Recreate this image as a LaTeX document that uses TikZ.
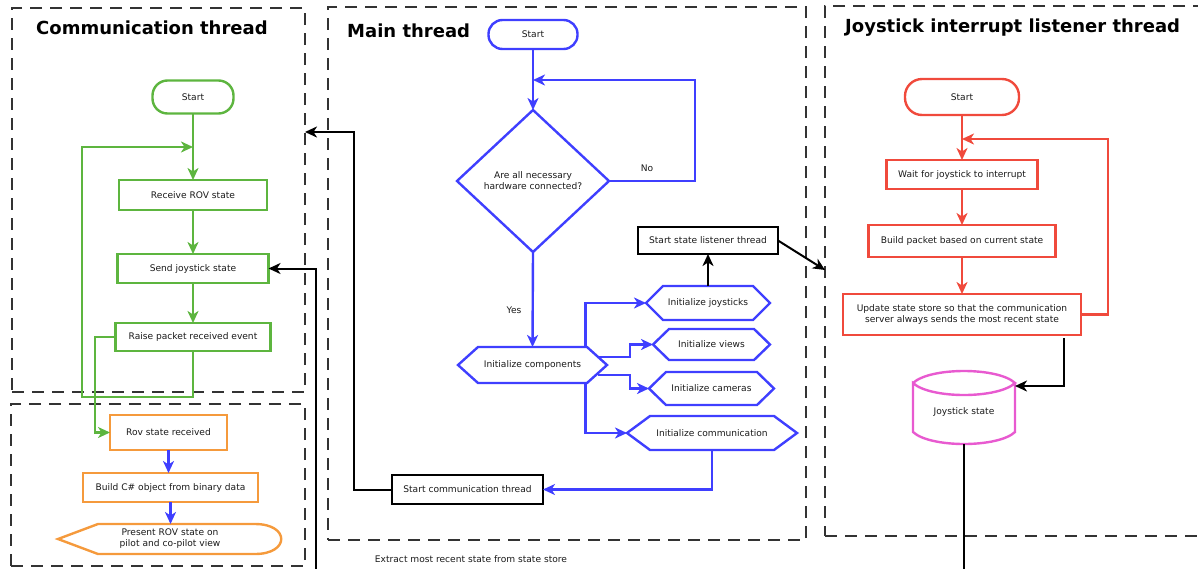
\documentclass[tikz,border=0pt]{standalone}
\usepackage{fontspec}
\setmainfont{DejaVu Sans}
\usetikzlibrary{arrows.meta,calc}
\definecolor{cgreen}{HTML}{5DB53F}
\definecolor{cblue}{HTML}{3F3FFF}
\definecolor{cred}{HTML}{F04A3C}
\definecolor{corange}{HTML}{F59A3C}
\definecolor{cmag}{HTML}{E85AD0}
\definecolor{frm}{HTML}{333333}
\definecolor{txt}{HTML}{1A1A1A}
\tikzset{
  box/.style={draw, rectangle, inner sep=0pt, outer sep=0pt, line width=2.4pt, align=center, text=txt},
  term/.style={box, rounded corners=15pt},
  ghost/.style={rectangle, inner sep=0pt, outer sep=0pt, align=center, text=txt},
  arr/.style={line width=2.4pt, -{Stealth[length=12pt,width=11pt,inset=3.5pt]}},
  garr/.style={arr, draw=cgreen},
  barr/.style={arr, draw=cblue},
  rarr/.style={arr, draw=cred},
  karr/.style={arr, draw=black, line width=2pt},
  frame/.style={draw=frm, rectangle, inner sep=0pt, outer sep=0pt, line width=2.4pt, dash pattern=on 12pt off 8pt},
  title/.style={inner sep=0pt, anchor=west, text=black, font=\fontsize{18}{20}\selectfont\bfseries},
  lbl/.style={inner sep=0pt, text=txt}
}
\newcommand{\hexdraw}[3]{%
  \draw[#2, line width=2.4pt] (#1.west) -- ([xshift=#3]#1.north west) -- ([xshift=-#3]#1.north east) -- (#1.east) -- ([xshift=-#3]#1.south east) -- ([xshift=#3]#1.south west) -- cycle;}
\begin{document}
\begin{tikzpicture}[x=1pt,y=-1pt, font=\fontsize{9.1}{10.9}\selectfont]
\useasboundingbox (0,0) rectangle (1198,568);

% frames
\node[frame, minimum width=293pt, minimum height=384pt] (fcomm) at (158.5,200) {};
\node[frame, minimum width=294pt, minimum height=162pt] (fpres) at (158,485) {};
\node[frame, minimum width=478pt, minimum height=533pt] (fmain) at (567,273.5) {};
\node[frame, minimum width=385pt, minimum height=530pt] (fjoy) at (1017.5,271) {};

% titles
\node[title] (tcomm) at (36,28) {Communication thread};
\node[title] (tmain) at (347,31) {Main thread};
\node[title] (tjoy) at (845,28) {Joystick interrupt listener thread};

% ---------- Communication thread ----------
\node[term, draw=cgreen, minimum width=81pt, minimum height=33pt] (cstart) at (193,97) {Start};
\node[box, draw=cgreen, minimum width=148pt, minimum height=30pt] (crecv) at (193,195) {Receive ROV state};
\node[box, draw=cgreen, minimum width=151pt, minimum height=29pt] (csend) at (193,268.5) {Send joystick state};
\node[box, draw=cgreen, minimum width=155pt, minimum height=28pt] (craise) at (193,337) {Raise packet received event};
\coordinate (cloop) at (193,147);
\draw[garr] (cstart.south) -- (crecv.north);
\draw[garr] (crecv.south) -- (csend.north);
\draw[garr] (csend.south) -- (craise.north);
\draw[garr] (craise.south) -- ++(0,46) -| (82,147) -- (cloop);

% ---------- Presentation ----------
\node[box, draw=corange, minimum width=117pt, minimum height=35pt] (rovrecv) at (168.5,432.5) {Rov state received};
\node[box, draw=corange, minimum width=175pt, minimum height=29pt] (build) at (170.5,487.5) {Build C\# object from binary data};
\node[ghost, minimum width=224pt, minimum height=30pt] (present) at (170,539) {Present ROV state on\\pilot and co-pilot view};
\draw[corange, line width=2.4pt] (present.west) -- ([xshift=40pt]present.north west) -- ([xshift=-27pt]present.north east) .. controls ([xshift=8pt]present.north east) and ([xshift=8pt]present.south east) .. ([xshift=-27pt]present.south east) -- ([xshift=40pt]present.south west) -- cycle;
\draw[garr] (craise.west) -- (95,337) |- (rovrecv.west);
\draw[barr] (rovrecv.south) -- (rovrecv.south |- build.north);
\draw[barr] (build.south) -- (build.south |- present.north);

% ---------- Main thread ----------
\node[term, draw=cblue, minimum width=89pt, minimum height=29pt, rounded corners=14pt] (mstart) at (533,34.5) {Start};
\node[ghost, minimum width=152pt, minimum height=142pt] (dec) at (533,181) {Are all necessary\\hardware connected?};
\draw[cblue, line width=2.4pt] (dec.north) -- (dec.east) -- (dec.south) -- (dec.west) -- cycle;
\coordinate (mloop) at (533,80);
\draw[barr] (mstart.south) -- (dec.north);
\draw[barr] (dec.east) -| (695,80) -- (mloop);
\node[lbl] (no) at (647,168) {No};
\node[lbl] (yes) at (514,310) {Yes};

\node[ghost, minimum width=149pt, minimum height=36pt] (comp) at (532.5,365) {Initialize components};
\hexdraw{comp}{cblue}{20pt}
\node[ghost, minimum width=124pt, minimum height=34pt] (ijoy) at (708,303) {Initialize joysticks};
\hexdraw{ijoy}{cblue}{17pt}
\node[ghost, minimum width=117pt, minimum height=31pt] (iview) at (711.5,344.5) {Initialize views};
\hexdraw{iview}{cblue}{16pt}
\node[ghost, minimum width=125pt, minimum height=33pt] (icam) at (711.5,388.5) {Initialize cameras};
\hexdraw{icam}{cblue}{17pt}
\node[ghost, minimum width=170pt, minimum height=34pt] (icomm) at (712,433) {Initialize communication};
\hexdraw{icomm}{cblue}{23pt}

\draw[barr] (dec.south) -- (comp.north);
\draw[barr] ([xshift=53pt]comp.north) |- (ijoy.west);
\draw[barr] ([xshift=-9pt,yshift=8pt]comp.east) -- (630,357) |- (iview.west);
\draw[barr] ([xshift=-9pt,yshift=-10pt]comp.east) -- (630,375) |- (icam.west);
\draw[barr] ([xshift=53pt]comp.south) |- (icomm.west);

\node[box, draw=black, line width=2pt, minimum width=151pt, minimum height=29pt] (sct) at (467.5,489.5) {Start communication thread};
\draw[barr] (icomm.south) |- (sct.east);
\draw[karr] (sct.west) -| (354,132) -- (fcomm.east |- 354,132);

\node[box, draw=black, line width=2pt, minimum width=140pt, minimum height=27pt] (ssl) at (708,240.5) {Start state listener thread};
\draw[karr] (ijoy.north) -- (ssl.south);
\draw[karr] (ssl.east) -- (fjoy.west |- 0,270);

\node[lbl] (extract) at (471,559) {Extract most recent state from state store};

% ---------- Joystick thread ----------
\node[term, draw=cred, minimum width=114pt, minimum height=36pt, rounded corners=17pt] (jstart) at (962,97) {Start};
\node[box, draw=cred, minimum width=151pt, minimum height=29pt] (jwait) at (962,174.5) {Wait for joystick to interrupt};
\node[box, draw=cred, minimum width=187pt, minimum height=32pt] (jbuild) at (962,241) {Build packet based on current state};
\node[box, draw=cred, minimum width=238pt, minimum height=41pt] (jupd) at (962,314.5) {Update state store so that the communication\\server always sends the most recent state};
\coordinate (jloop) at (962,139);
\draw[rarr] (jstart.south) -- (jwait.north);
\draw[rarr] (jwait.south) -- (jbuild.north);
\draw[rarr] (jbuild.south) -- (jupd.north);
\draw[rarr] (jupd.east) -| (1108,139) -- (jloop);

\node[ghost, minimum width=102pt, minimum height=64pt] (jst) at (964,412) {Joystick state};
\draw[cmag, line width=2.4pt] (913,383) .. controls (930,367) and (998,367) .. (1015,383)
  .. controls (998,399) and (930,399) .. (913,383) -- (913,432)
  .. controls (930,448) and (998,448) .. (1015,432) -- (1015,383);
\draw[karr] ([xshift=102pt,yshift=-3pt]jupd.south) |- ([yshift=26pt]jst.east);
\draw[karr] (jst.south) |- (316,620) |- (csend.east);
\end{tikzpicture}
\end{document}
